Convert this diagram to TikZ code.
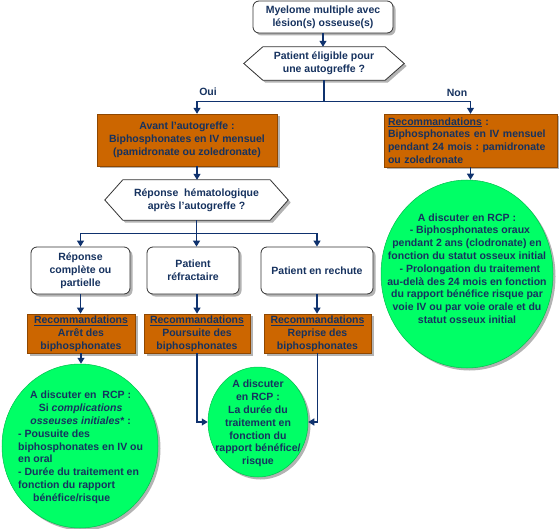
\documentclass[tikz,border=0pt]{standalone}
\usepackage{fontspec}
\setmainfont{Liberation Sans}
\frenchspacing
\usetikzlibrary{shadows,arrows.meta,shapes.geometric,calc}
\definecolor{txt}{RGB}{22,50,95}
\definecolor{ln}{RGB}{15,50,110}
\definecolor{org}{RGB}{204,102,0}
\definecolor{grn}{RGB}{0,255,102}
\newcommand\hexat[2]{%
  \path[hexline] (#1.west) -- ([xshift=#2]#1.north west) -- ([xshift=-#2]#1.north east) -- (#1.east) -- ([xshift=-#2]#1.south east) -- ([xshift=#2]#1.south west) -- cycle;}
\begin{document}
\begin{tikzpicture}[x=1pt,y=-1pt,
  font=\fontsize{10.5}{12.8}\selectfont\bfseries, text=txt,
  shd/.style={drop shadow={shadow xshift=2.5pt,shadow yshift=-2.5pt,fill=black!50,opacity=0.6}},
  wbox/.style={draw=black!80,line width=0.8pt,rounded corners=6pt,fill=white,shd,align=center,inner sep=2pt},
  obox/.style={fill=org,draw=org!70!black,line width=0.4pt,shd,align=center,inner sep=2pt},
  oval/.style={ellipse,fill=grn,draw=grn!75!black,line width=0.5pt,shd,inner sep=0pt},
  hexbox/.style={draw=none,inner sep=0pt},
  hexline/.style={draw=black!80,line width=0.8pt,fill=white,shd},
  arr/.style={draw=ln,line width=1.2pt,-{Triangle[length=6pt,width=7pt]}},
  lab/.style={align=center,inner sep=0pt}
]
\useasboundingbox (0,0) rectangle (559,529);

% top
\node[wbox,minimum width=140pt,minimum height=32pt] (top) at (323,17) {Myelome multiple avec\\lésion(s) osseuse(s)};
\node[hexbox,minimum width=160pt,minimum height=33pt] (h1) at (324,63.5) {};
\hexat{h1}{19pt}
\node[lab] (h1t) at (h1.center) {Patient éligible pour\\une autogreffe ?};

% second level
\node[obox,minimum width=180pt,minimum height=52pt] (lbox) at (187,140) {Avant l’autogreffe :\\Biphosphonates en IV mensuel\\(pamidronate ou zoledronate)};
\node[obox,minimum width=173pt,minimum height=53pt,text width=165pt,align=left] (rbox) at (470.5,140.5) {\underline{Recommandations} :\\Biphosphonates en IV mensuel\\pendant 24 mois : pamidronate\\ou zoledronate};
\node[lab] (oui) at (208,92) {Oui};
\node[lab] (non) at (457,93) {Non};

% right ellipse
\node[oval,minimum width=172pt,minimum height=188pt] (e1) at (467,274) {};
\node[lab] (e1t) at (467,268.5) {A discuter en RCP :\\\ \ - Biphosphonates oraux\\pendant 2 ans (clodronate) en\\fonction du statut osseux initial\\\ \ - Prolongation du traitement\\au-delà des 24 mois en fonction\\du rapport bénéfice risque par\\voie IV ou par voie orale et du\\statut osseux initial};

% second hexagon
\node[hexbox,minimum width=183pt,minimum height=40pt] (h2) at (196.5,200) {};
\hexat{h2}{18pt}
\node[lab] (h2t) at (h2.center) {Réponse\ \ hématologique\\après l’autogreffe ?};

% white boxes
\node[wbox,minimum width=99pt,minimum height=47pt] (w1) at (80.5,270.5) {Réponse\\complète ou\\partielle};
\node[wbox,minimum width=92pt,minimum height=47pt] (w2) at (193,270.5) {Patient\\réfractaire};
\node[wbox,minimum width=112pt,minimum height=47pt] (w3) at (317,270.5) {Patient en rechute};

% orange recommendations
\node[obox,minimum width=108pt,minimum height=39pt] (o1) at (81,333.5) {\underline{Recommandations}\\Arrêt des\\biphosphonates};
\node[obox,minimum width=106pt,minimum height=39pt] (o2) at (197,333.5) {\underline{Recommandations}\\Poursuite des\\biphosphonates};
\node[obox,minimum width=107pt,minimum height=39pt] (o3) at (317.5,333.5) {\underline{Recommandations}\\Reprise des\\biphosphonates};

% bottom ellipses
\node[oval,minimum width=156pt,minimum height=164pt] (e3) at (80,446) {};
\node[lab,anchor=west] (e3t) at (18,447.5) {\begin{tabular}{@{}l@{}}
\multicolumn{1}{@{}c@{}}{A discuter en\ \ RCP :}\\
\multicolumn{1}{@{}c@{}}{Si \textit{complications}}\\
\multicolumn{1}{@{}c@{}}{\textit{osseuses initiales}* :}\\
- Pousuite des\\
biphosphonates en IV ou\\
en oral\\
- Durée du traitement en\\
fonction du rapport\\
\hspace*{15pt}bénéfice/risque
\end{tabular}};
\node[oval,minimum width=100pt,minimum height=110pt] (e2) at (258,422) {};
\node[lab] (e2t) at (258,423.5) {A discuter\\en RCP :\\La durée du\\traitement en\\fonction du\\rapport bénéfice/\\risque};

% connectors
\draw[arr] (top.south) -- (top.south |- h1.north);
\coordinate (s1) at ($(h1.south)+(0,21)$);
\draw[arr] (h1.south) -- (s1) -| ([xshift=10pt]lbox.north);
\draw[arr] (s1) -| (rbox.north);
\draw[arr] ([xshift=10pt]lbox.south) -- ([xshift=10pt]lbox.south |- h2.north);
\draw[arr] (rbox.south) -- (rbox.south |- e1.north);
\coordinate (s2) at ($(h2.south)+(0,13)$);
\draw[arr] (h2.south) -- (s2) -| (w1.north);
\draw[arr] (s2) -| (w3.north);
\draw[arr] (s2) -- (s2 |- w2.north);
\draw[arr] (w1.south) -- (w1.south |- o1.north);
\draw[arr] (o2.north |- w2.south) -- (o2.north);
\draw[arr] (w3.south) -- (w3.south |- o3.north);
\draw[arr] (o1.south) -- (o1.south |- e3.north);
\draw[arr] (o2.south) |- (e2.west);
\draw[arr] (o3.south) |- (e2.east);
\end{tikzpicture}
\end{document}
